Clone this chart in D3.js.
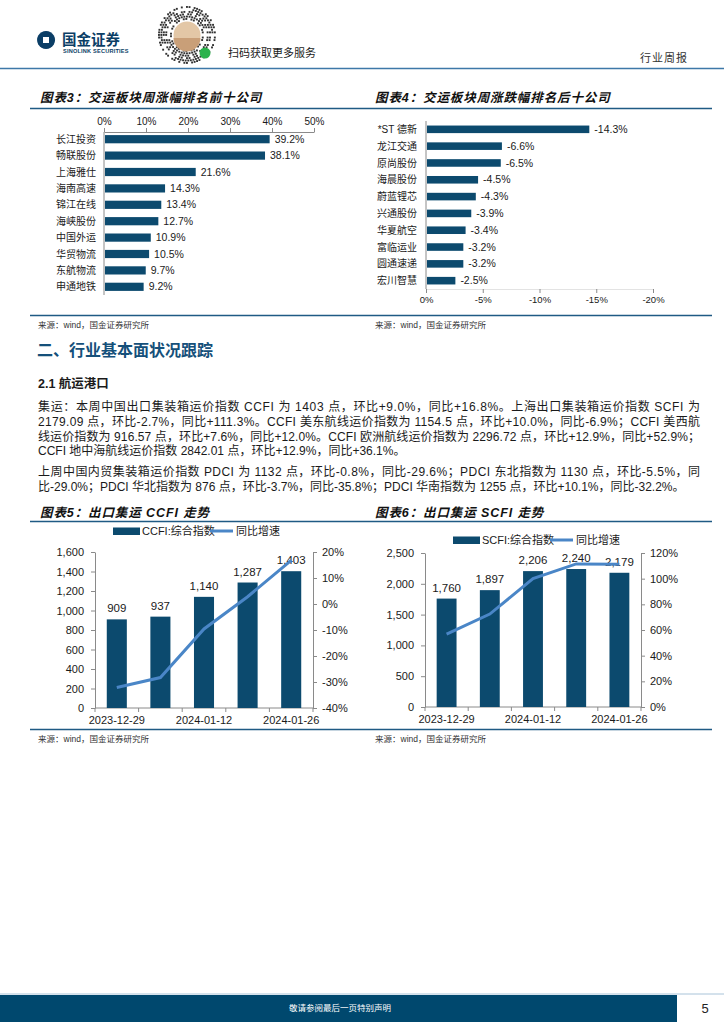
<!DOCTYPE html>
<html><head><meta charset="utf-8">
<script src="https://cdn.jsdelivr.net/npm/d3@7"></script>
<style>
html,body{margin:0;padding:0;background:#fff;}
svg{display:block;}
text{font-family:"Liberation Sans","Noto Sans CJK SC",sans-serif;}
</style></head>
<body>
<svg id="page" width="724" height="1024"></svg>
<script>
// ---------- DATA ----------
const top10Names = ["长江投资","畅联股份","上海雅仕","海南高速","锦江在线","海峡股份","中国外运","华贸物流","东航物流","申通地铁"];
const top10Values = [39.2,38.1,21.6,14.3,13.4,12.7,10.9,10.5,9.7,9.2];
const top10Ticks = [0,10,20,30,40,50];

const bottom10Names = ["*ST 德新","龙江交通","原尚股份","海晨股份","蔚蓝锂芯","兴通股份","华夏航空","富临运业","圆通速递","宏川智慧"];
const bottom10Values = [-14.3,-6.6,-6.5,-4.5,-4.3,-3.9,-3.4,-3.2,-3.2,-2.5];
const bottom10Ticks = [0,-5,-10,-15,-20];

const weekDates = ["2023-12-29","2024-01-05","2024-01-12","2024-01-19","2024-01-26"];
const shownDates = ["2023-12-29","2024-01-12","2024-01-26"];
const ccfiIndex = [909,937,1140,1287,1403];
const ccfiYoY = [-32.1,-28.3,-9.6,2.8,16.8];
const ccfiLeftTicks = [0,200,400,600,800,1000,1200,1400,1600];
const ccfiRightTicks = [-40,-30,-20,-10,0,10,20];

const scfiIndex = [1760,1897,2206,2240,2179];
const scfiYoY = [56.8,72.4,100.0,111.5,111.3];
const scfiLeftTicks = [0,500,1000,1500,2000,2500];
const scfiRightTicks = [0,20,40,60,80,100,120];

const paraLines = [
 "集运：本周中国出口集装箱运价指数 CCFI 为 1403 点，环比+9.0%，同比+16.8%。上海出口集装箱运价指数 SCFI 为",
 "2179.09 点，环比-2.7%，同比+111.3%。CCFI 美东航线运价指数为 1154.5 点，环比+10.0%，同比-6.9%；CCFI 美西航",
 "线运价指数为 916.57 点，环比+7.6%，同比+12.0%。CCFI 欧洲航线运价指数为 2296.72 点，环比+12.9%，同比+52.9%；",
 "CCFI 地中海航线运价指数 2842.01 点，环比+12.9%，同比+36.1%。",
 "上周中国内贸集装箱运价指数 PDCI 为 1132 点，环比-0.8%，同比-29.6%；PDCI 东北指数为 1130 点，环比-5.5%，同",
 "比-29.0%；PDCI 华北指数为 876 点，环比-3.7%，同比-35.8%；PDCI 华南指数为 1255 点，环比+10.1%，同比-32.2%。"
];

// ---------- STYLE ----------
const BAR = "#0c4a6e", LINE = "#4a86c7", RULE = "#1f5a84", AX = "#8a8a8a", TXT = "#1a1a1a";
const CJK = "'Noto Sans CJK SC',sans-serif";
const svg = d3.select("#page");
svg.append("rect").attr("width",724).attr("height",1024).attr("fill","#fff");

// ---------- HEADER ----------
const hd = svg.append("g");
hd.append("path").attr("d","M46,31 a9,9 0 1,0 0.1,0 z").attr("fill","#0b3e66");
hd.append("rect").attr("x",43).attr("y",37).attr("width",6).attr("height",6).attr("fill","#fff");
hd.append("text").attr("x",62).attr("y",45).attr("font-size",14.5).attr("font-weight","bold")
  .attr("font-family",CJK).attr("fill","#0b3e66").text("国金证券");
hd.append("text").attr("x",63).attr("y",53).attr("font-size",5.6).attr("font-weight","bold")
  .attr("fill","#0b3e66").attr("letter-spacing",0.2).text("SINOLINK SECURITIES");
// circular mini-program code decoration
const qr = hd.append("g");
const qcx=187,qcy=35;
for(let ring=0;ring<6;ring++){
  const rr = 16 + ring*2.4;
  const n = Math.round(2*Math.PI*rr/2.6);
  for(let k=0;k<n;k++){
    if((k*5+ring*3+(k%7)*ring)%3===0) continue;
    const a = 2*Math.PI*k/n;
    qr.append("rect").attr("x",qcx+rr*Math.cos(a)-1).attr("y",qcy+rr*Math.sin(a)-1)
      .attr("width",1.9).attr("height",1.9).attr("fill","#333");
  }
}
qr.append("circle").attr("cx",qcx).attr("cy",qcy).attr("r",13.5).attr("fill","#e3c7a6");
qr.append("path").attr("d",`M${qcx-13.5},${qcy+3} A13.5,13.5 0 0,0 ${qcx+13.5},${qcy+3} Z`).attr("fill","#c99f78");
qr.append("circle").attr("cx",205).attr("cy",53).attr("r",5.5).attr("fill","#2bb24c");
hd.append("text").attr("x",228).attr("y",57).attr("font-size",11).attr("font-family",CJK).attr("fill",TXT).text("扫码获取更多服务");
hd.append("text").attr("x",640).attr("y",62).attr("font-size",11).attr("font-family",CJK).attr("fill","#333").attr("letter-spacing",1).text("行业周报");
hd.append("line").attr("x1",0).attr("x2",724).attr("y1",68.5).attr("y2",68.5).attr("stroke","#3d78a8").attr("stroke-width",1.6);

// ---------- helpers ----------
function title(x,y,t){
  svg.append("text").attr("x",x).attr("y",y).attr("font-size",12.5).attr("font-style","italic")
   .attr("font-weight","bold").attr("font-family",CJK).attr("letter-spacing",0.9).attr("fill","#111").text(t);
}
function rule(x1,x2,y,w){
  svg.append("line").attr("x1",x1).attr("x2",x2).attr("y1",y).attr("y2",y).attr("stroke",RULE).attr("stroke-width",w||1.4);
}
function source(x,y){
  svg.append("text").attr("x",x).attr("y",y).attr("font-size",8.5).attr("font-family",CJK).attr("fill","#333").text("来源：wind，国金证券研究所");
}
function styleAxis(g){
  g.selectAll("path,line").attr("stroke",AX);
  g.selectAll("text").attr("fill",TXT).attr("font-family","'Liberation Sans',sans-serif");
}

// ---------- CHART 3 ----------
title(40,102,"图表3：交运板块周涨幅排名前十公司");
title(375,102,"图表4：交运板块周涨跌幅排名后十公司");
rule(30,712,108.5);
{
  const x = d3.scaleLinear().domain([0,50]).range([104,314]);
  const y = d3.scaleBand().domain(top10Names).range([131,295]).paddingInner(0.5).paddingOuter(0.25);
  const ax = svg.append("g").attr("transform","translate(0,132)")
    .call(d3.axisTop(x).tickValues(top10Ticks).tickFormat(d=>d+"%").tickSize(4).tickPadding(3).tickSizeOuter(0));
  ax.selectAll("text").attr("font-size",10);
  styleAxis(ax);
  svg.append("line").attr("x1",104).attr("x2",104).attr("y1",132).attr("y2",295).attr("stroke",AX);
  const g = svg.append("g");
  g.selectAll("rect").data(top10Values).join("rect")
    .attr("x",x(0)+1).attr("y",(d,i)=>y(top10Names[i])).attr("height",y.bandwidth())
    .attr("width",d=>x(d)-x(0)).attr("fill",BAR);
  g.selectAll("text.v").data(top10Values).join("text").attr("class","v")
    .attr("x",d=>x(d)+6).attr("y",(d,i)=>y(top10Names[i])+y.bandwidth()/2+3.6)
    .attr("font-size",10.5).attr("fill",TXT).text(d=>d.toFixed(1)+"%");
  g.selectAll("text.n").data(top10Names).join("text").attr("class","n")
    .attr("x",96).attr("y",d=>y(d)+y.bandwidth()/2+3.6).attr("text-anchor","end")
    .attr("font-size",10).attr("font-family",CJK).attr("fill",TXT).text(d=>d);
}
// ---------- CHART 4 ----------
{
  const x = d3.scaleLinear().domain([0,-20]).range([426,653]);
  const y = d3.scaleBand().domain(bottom10Names).range([121,289]).paddingInner(0.55).paddingOuter(0.27);
  const ax = svg.append("g").attr("transform","translate(0,289)")
    .call(d3.axisBottom(x).tickValues(bottom10Ticks).tickFormat(d=>d+"%").tickSize(4).tickPadding(3).tickSizeOuter(0));
  ax.selectAll("text").attr("font-size",9.5);
  styleAxis(ax); ax.select("path").attr("stroke","#e3e3e3");
  svg.append("line").attr("x1",426).attr("x2",426).attr("y1",121).attr("y2",289).attr("stroke",AX);
  const g = svg.append("g");
  g.selectAll("rect").data(bottom10Values).join("rect")
    .attr("x",x(0)+1).attr("y",(d,i)=>y(bottom10Names[i])).attr("height",y.bandwidth())
    .attr("width",d=>x(d)-x(0)).attr("fill",BAR);
  g.selectAll("text.v").data(bottom10Values).join("text").attr("class","v")
    .attr("x",d=>x(d)+6).attr("y",(d,i)=>y(bottom10Names[i])+y.bandwidth()/2+3.6)
    .attr("font-size",10.5).attr("fill",TXT).text(d=>d.toFixed(1)+"%");
  g.selectAll("text.n").data(bottom10Names).join("text").attr("class","n")
    .attr("x",417).attr("y",d=>y(d)+y.bandwidth()/2+3.6).attr("text-anchor","end")
    .attr("font-size",10).attr("font-family",CJK).attr("fill",TXT).text(d=>d);
}
rule(30,712,315.5);
source(38,328); source(375,328);

// ---------- SECTION TEXT ----------
svg.append("text").attr("x",37).attr("y",356).attr("font-size",16).attr("font-weight","bold")
  .attr("font-family",CJK).attr("fill","#15507a").text("二、行业基本面状况跟踪");
svg.append("text").attr("x",38).attr("y",388).attr("font-size",12.5).attr("font-weight","bold")
  .attr("font-family",CJK).attr("fill",TXT).text("2.1 航运港口");
const lineY = [411,426,441,455,476,491];
const justified = [true,true,true,false,true,false];
paraLines.forEach((t,i)=>{
  const tx = svg.append("text").attr("x",38).attr("y",lineY[i]).attr("font-size",12)
    .attr("font-family",CJK).attr("fill",TXT).text(t);
  if(justified[i]) tx.attr("textLength",662).attr("lengthAdjust","spacing");
});

// ---------- COMBO CHARTS ----------
function combo(opt){
  title(opt.tx,517,opt.title);
  const x = d3.scaleBand().domain(weekDates).range([opt.x0,opt.x1]).paddingInner(0.54).paddingOuter(0.27);
  const yL = d3.scaleLinear().domain(opt.lDom).range([opt.y0,opt.y1]);
  const yR = d3.scaleLinear().domain(opt.rDom).range([opt.y0,opt.y1]);
  svg.append("rect").attr("x",opt.lgx).attr("y",opt.lgy-3.5).attr("width",27).attr("height",7.5).attr("fill",BAR);
  svg.append("text").attr("x",opt.lgx+29).attr("y",opt.lgy+4).attr("font-size",11).attr("fill",TXT).text(opt.name);
  svg.append("line").attr("x1",opt.lgx2).attr("x2",opt.lgx2+23).attr("y1",opt.lgy).attr("y2",opt.lgy).attr("stroke",LINE).attr("stroke-width",3);
  svg.append("text").attr("x",opt.lgx2+26).attr("y",opt.lgy+4).attr("font-size",11).attr("font-family",CJK).attr("fill",TXT).text("同比增速");
  const aL = svg.append("g").attr("transform",`translate(${opt.x0},0)`)
    .call(d3.axisLeft(yL).tickValues(opt.lTicks).tickFormat(d3.format(",")).tickSize(4).tickPadding(7).tickSizeOuter(0));
  aL.selectAll("text").attr("font-size",11);
  styleAxis(aL);
  const aR = svg.append("g").attr("transform",`translate(${opt.x1},0)`)
    .call(d3.axisRight(yR).tickValues(opt.rTicks).tickFormat(d=>d+"%").tickSize(4).tickPadding(5).tickSizeOuter(0));
  aR.selectAll("text").attr("font-size",11);
  styleAxis(aR);
  svg.append("line").attr("x1",opt.x0).attr("x2",opt.x1).attr("y1",opt.y0).attr("y2",opt.y0).attr("stroke",AX);
  d3.range(weekDates.length+1).forEach(i=>{
    const xx = opt.x0 + i*x.step();
    svg.append("line").attr("x1",xx).attr("x2",xx).attr("y1",opt.y0).attr("y2",opt.y0+4).attr("stroke",AX);
  });
  svg.selectAll(null).data(shownDates).join("text")
    .attr("x",d=>x(d)+x.bandwidth()/2).attr("y",opt.y0+16).attr("text-anchor","middle")
    .attr("font-size",11).attr("fill",TXT).text(d=>d);
  svg.append("g").selectAll("rect").data(opt.bars).join("rect")
    .attr("x",(d,i)=>x(weekDates[i])).attr("width",x.bandwidth())
    .attr("y",d=>yL(d)).attr("height",d=>yL(0)-yL(d)).attr("fill",BAR);
  svg.append("g").selectAll("text").data(opt.bars).join("text")
    .attr("x",(d,i)=>x(weekDates[i])+x.bandwidth()/2).attr("y",d=>yL(d)-7)
    .attr("text-anchor","middle").attr("font-size",11.5).attr("fill",TXT).text(d3.format(","));
  const ln = d3.line().x((d,i)=>x(weekDates[i])+x.bandwidth()/2).y(d=>yR(d));
  svg.append("path").datum(opt.yoy).attr("d",ln).attr("fill","none").attr("stroke",LINE).attr("stroke-width",3);
}
combo({tx:40,title:"图表5：出口集运 CCFI 走势",x0:95,x1:313,y0:708,y1:552,lDom:[0,1600],rDom:[-40,20],
  lTicks:ccfiLeftTicks,rTicks:ccfiRightTicks,bars:ccfiIndex,yoy:ccfiYoY,name:"CCFI:综合指数",lgx:113,lgx2:210,lgy:531});
combo({tx:375,title:"图表6：出口集运 SCFI 走势",x0:425,x1:641,y0:707,y1:553,lDom:[0,2500],rDom:[0,120],
  lTicks:scfiLeftTicks,rTicks:scfiRightTicks,bars:scfiIndex,yoy:scfiYoY,name:"SCFI:综合指数",lgx:453,lgx2:550,lgy:540});
rule(30,712,521.5);
rule(30,712,729.5);
source(38,742); source(375,742);

// ---------- FOOTER ----------
svg.append("line").attr("x1",0).attr("x2",724).attr("y1",994).attr("y2",994).attr("stroke","#a9c4d9").attr("stroke-width",1);
svg.append("rect").attr("x",0).attr("y",995).attr("width",677).attr("height",27).attr("fill","#00486e");
svg.append("text").attr("x",340).attr("y",1011).attr("text-anchor","middle").attr("font-size",8.5)
  .attr("font-family",CJK).attr("fill","#fff").text("敬请参阅最后一页特别声明");
svg.append("text").attr("x",705).attr("y",1013).attr("text-anchor","middle").attr("font-size",13).attr("fill","#222").text("5");
</script>
</body></html>
